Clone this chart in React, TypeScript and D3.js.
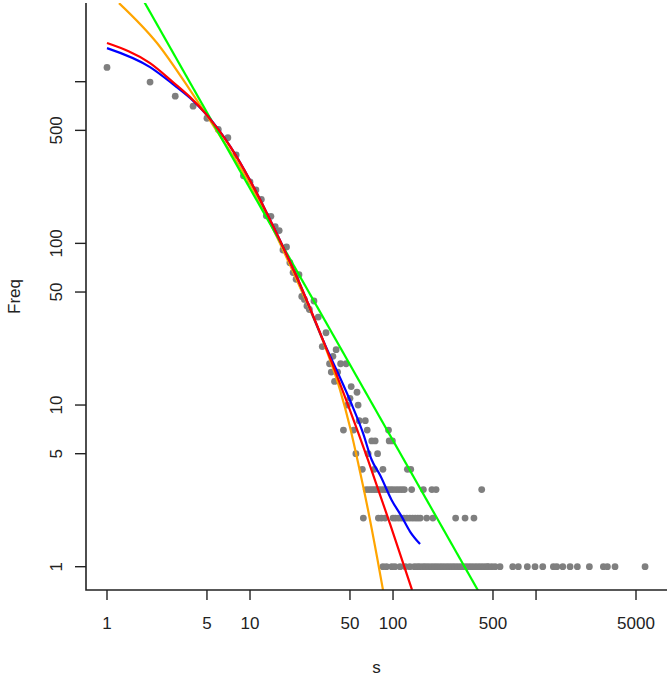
import { scaleLog, line, curveMonotoneX } from 'd3'

const width = 672
const height = 678

// plot box (bty = "l")
const box = { left: 86, right: 667, top: 3, bottom: 590 }

const xTicks = [1, 5, 10, 50, 100, 500, 1000, 5000]
const xTickLabels = ['1', '5', '10', '50', '100', '500', '', '5000']
const yTicks = [1, 5, 10, 50, 100, 500, 1000]
const yTickLabels = ['1', '5', '10', '50', '100', '500', '']

// observed frequencies, small s
const headSizes = [1, 2, 3, 4, 5, 6, 7, 8, 9, 10, 11, 12, 13, 14, 15, 16, 17, 18, 19, 20, 21, 22, 23, 24, 25, 26, 28, 30, 32, 34, 36, 37, 38, 39, 40, 41, 43, 47, 48, 50, 51, 56, 57]
const headFreqs = [1225, 995, 814, 706, 594, 507, 450, 352, 262, 240, 214, 187, 148, 147, 127, 120, 91, 95, 76, 66, 60, 64, 47, 45, 41, 39, 44, 35, 23, 28, 18, 16, 20, 14, 22, 16, 18, 18, 10, 11, 13, 12, 10]

// tail: sizes seen with a given frequency
const sizesFreq8 = [58, 64]
const sizesFreq7 = [45, 53, 66, 93]
const sizesFreq6 = [71, 75, 94, 99]
const sizesFreq5 = [55, 67, 78]
const sizesFreq4 = [61, 74, 85, 126, 133]
const sizesFreq3 = [65, 68, 71, 74, 77, 80, 84, 88, 92, 96, 100, 105, 110, 115, 120, 135, 163, 187, 200, 417]
const sizesFreq2 = [62, 79, 83, 88, 100, 104, 109, 114, 119, 125, 131, 137, 143, 149, 155, 172, 190, 274, 319, 368]
const sizesFreq1 = [85, 90, 98, 103, 112, 122, 131, 141, 148, 154, 162, 169, 177, 186, 195, 204, 214, 224, 235, 246, 258, 270, 283, 297, 311, 326, 342, 358, 376, 394, 413, 433, 454, 464, 490, 517, 560, 687, 752, 869, 984, 1114, 1322, 1396, 1538, 1730, 1945, 2360, 2956, 3155, 3567, 5785]

// fitted curves, [s, freq]
const redFit = [[1, 1734], [2, 1303], [2.89, 995], [3.81, 803], [5, 621], [7.25, 400], [10, 246], [14.5, 128], [21.7, 59.3], [32.4, 25.2], [47.7, 10.4], [66.9, 4.57], [95.3, 1.84], [135.8, 0.718]]
const blueFit = [[1, 1614], [2, 1231], [2.89, 966], [3.81, 793], [5, 621], [7.25, 400], [10, 246], [14.5, 128], [21.7, 59.3], [32.4, 25.2], [50, 10.7], [61.7, 6.71], [71, 4.57], [81.1, 3.69], [97.9, 2.58], [115, 2.04], [131.5, 1.65], [154.5, 1.38]]
const orangeFit = [[1.213, 3063], [2.237, 1734], [3.81, 887], [5.69, 516], [10, 233], [14.5, 122.5], [21.7, 56.8], [34.6, 21.3], [42.6, 12.4], [50, 7.31], [57.4, 4.26], [65.8, 2.41], [77.3, 1.148], [85.1, 0.718]]
const greenFit = [[1, 7943], [1000, 0.166]]

const font = '"Liberation Sans", Arial, sans-serif'
const ink = '#222'

function App() {
  const xScale = scaleLog().domain([1, 5000]).range([107, 636])
  const yScale = scaleLog().domain([1, 1000]).range([566.7, 81.7])

  const points: [number, number][] = headSizes.map((s, i) => [s, headFreqs[i]])
  const rows: [number[], number][] = [
    [sizesFreq8, 8], [sizesFreq7, 7], [sizesFreq6, 6], [sizesFreq5, 5],
    [sizesFreq4, 4], [sizesFreq3, 3], [sizesFreq2, 2], [sizesFreq1, 1],
  ]
  rows.forEach(([sizes, f]) => sizes.forEach(s => points.push([s, f])))

  const fitLine = line<number[]>()
    .x(d => xScale(d[0]))
    .y(d => yScale(d[1]))
    .curve(curveMonotoneX)

  const fits: [number[][], string][] = [
    [orangeFit, '#FFA500'],
    [greenFit, '#00FF00'],
    [blueFit, '#0000FF'],
    [redFit, '#FF0000'],
  ]

  return (
    <svg width={width} height={height} style={{ position: 'absolute', left: 0, top: 0, background: '#fff' }}
      fontFamily={font}>
      <defs>
        <clipPath id="plotArea">
          <rect x={box.left} y={box.top} width={box.right - box.left} height={box.bottom - box.top} />
        </clipPath>
      </defs>

      {points.map((d, i) => (
        <circle key={i} cx={xScale(d[0])} cy={yScale(d[1])} r={3.4} fill="#7f7f7f" />
      ))}

      <g clipPath="url(#plotArea)">
        {fits.map(([pts, color]) => (
          <path key={color} d={fitLine(pts) || ''} fill="none" stroke={color} strokeWidth={2.2} strokeLinejoin="round" />
        ))}
      </g>

      {/* box: left and bottom */}
      <path d={`M${box.left},${box.top}V${box.bottom}H${box.right}`} fill="none" stroke={ink} strokeWidth={1.6} />

      {xTicks.map((t, i) => (
        <g key={t} transform={`translate(${xScale(t)},${box.bottom})`}>
          <line y2={10} stroke={ink} strokeWidth={1.4} />
          <text y={39} textAnchor="middle" fontSize={17} fill={ink}>{xTickLabels[i]}</text>
        </g>
      ))}
      {yTicks.map((t, i) => (
        <g key={t} transform={`translate(${box.left},${yScale(t)})`}>
          <line x2={-11} stroke={ink} strokeWidth={1.4} />
          <text transform="translate(-24,0) rotate(-90)" textAnchor="middle" fontSize={17} fill={ink}>{yTickLabels[i]}</text>
        </g>
      ))}

      <text x={(box.left + box.right) / 2} y={673} textAnchor="middle" fontSize={17} fill={ink}>s</text>
      <text transform={`translate(20,${(box.top + box.bottom) / 2}) rotate(-90)`} textAnchor="middle" fontSize={17} fill={ink}>Freq</text>
    </svg>
  )
}

export default App
